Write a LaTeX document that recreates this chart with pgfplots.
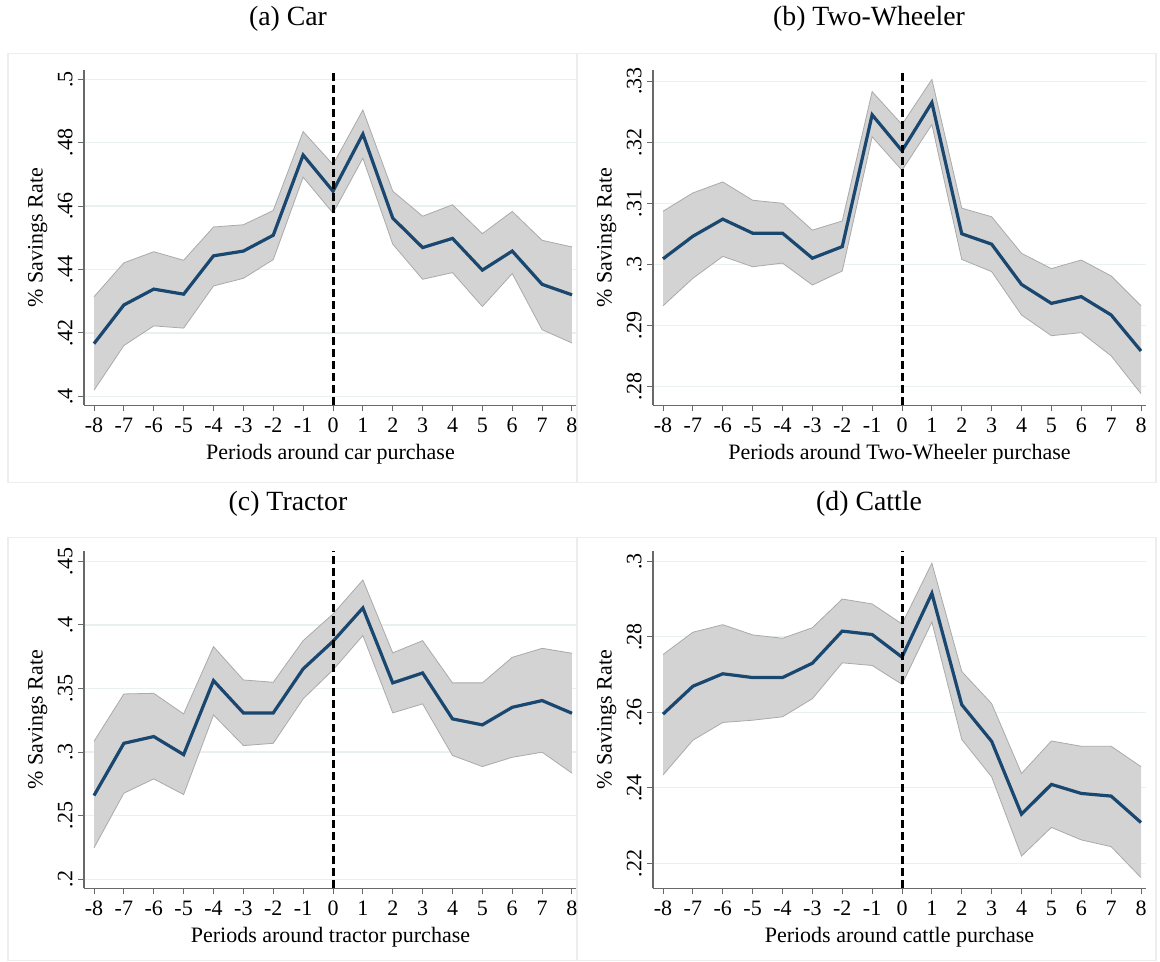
\documentclass[border=0pt]{standalone}
\usepackage{fontspec}
\setmainfont{Liberation Serif}
\usepackage{pgfplots}
\pgfplotsset{compat=1.18}
\usepackage{pgfplotstable}
\usepgfplotslibrary{fillbetween}
\definecolor{navy}{RGB}{26,71,111}
\definecolor{band}{RGB}{211,211,211}
\definecolor{bandedge}{RGB}{170,170,170}
\definecolor{gridc}{RGB}{232,240,242}
\definecolor{framec}{RGB}{234,238,240}
\definecolor{axisc}{RGB}{105,105,105}

\pgfplotstableread{
x m lo hi
-8 0.4166 0.4019 0.4314
-7 0.4288 0.4160 0.4421
-6 0.4338 0.4222 0.4456
-5 0.4322 0.4215 0.4429
-4 0.4443 0.4348 0.4534
-3 0.4458 0.4372 0.4541
-2 0.4508 0.4431 0.4586
-1 0.4761 0.4691 0.4835
0 0.4647 0.4578 0.4731
1 0.4827 0.4751 0.4903
2 0.4562 0.4480 0.4647
3 0.4469 0.4369 0.4568
4 0.4498 0.4390 0.4604
5 0.4398 0.4283 0.4513
6 0.4458 0.4387 0.4583
7 0.4353 0.4210 0.4492
8 0.4320 0.4168 0.4471
}\tabA

\pgfplotstableread{
x m lo hi
-8 0.3009 0.2932 0.3087
-7 0.3046 0.2977 0.3117
-6 0.3074 0.3013 0.3135
-5 0.3051 0.2996 0.3105
-4 0.3051 0.3002 0.3100
-3 0.3010 0.2966 0.3056
-2 0.3029 0.2989 0.3071
-1 0.3245 0.3209 0.3283
0 0.3186 0.3154 0.3229
1 0.3265 0.3229 0.3303
2 0.3050 0.3008 0.3092
3 0.3033 0.2988 0.3078
4 0.2967 0.2917 0.3018
5 0.2936 0.2883 0.2993
6 0.2947 0.2888 0.3007
7 0.2917 0.2850 0.2981
8 0.2858 0.2788 0.2932
}\tabB

\pgfplotstableread{
x m lo hi
-8 0.2658 0.2247 0.3085
-7 0.3069 0.2677 0.3457
-6 0.3122 0.2789 0.3462
-5 0.2980 0.2666 0.3300
-4 0.3562 0.3292 0.3829
-3 0.3308 0.3051 0.3567
-2 0.3308 0.3069 0.3549
-1 0.3654 0.3418 0.3876
0 0.3871 0.3646 0.4086
1 0.4133 0.3916 0.4353
2 0.3544 0.3308 0.3780
3 0.3622 0.3379 0.3876
4 0.3261 0.2973 0.3544
5 0.3214 0.2886 0.3544
6 0.3352 0.2959 0.3745
7 0.3405 0.2999 0.3816
8 0.3305 0.2834 0.3777
}\tabC

\pgfplotstableread{
x m lo hi
-8 0.2595 0.2434 0.2753
-7 0.2669 0.2526 0.2812
-6 0.2702 0.2573 0.2832
-5 0.2692 0.2579 0.2805
-4 0.2692 0.2588 0.2796
-3 0.2730 0.2636 0.2824
-2 0.2815 0.2731 0.2900
-1 0.2806 0.2724 0.2887
0 0.2746 0.2674 0.2834
1 0.2915 0.2839 0.2995
2 0.2620 0.2528 0.2708
3 0.2523 0.2429 0.2623
4 0.2330 0.2219 0.2438
5 0.2409 0.2295 0.2524
6 0.2385 0.2262 0.2510
7 0.2378 0.2244 0.2510
8 0.2308 0.2162 0.2456
}\tabD

\pgfplotsset{
  panel/.style={
    scale only axis, width=246.5pt, anchor=south west,
    xmin=-8.335, xmax=8.167,
    axis x line*=bottom, axis y line*=left,
    axis line style={axisc, line width=0.6pt, -},
    xtick={-8,-7,-6,-5,-4,-3,-2,-1,0,1,2,3,4,5,6,7,8},
    xticklabels={-8,-7,-6,-5,-4,-3,-2,-1,0,1,2,3,4,5,6,7,8},
    tick align=outside, major tick length=3pt,
    tick style={axisc, line width=0.5pt},
    ymajorgrids, major grid style={gridc, line width=0.7pt},
    yticklabel style={rotate=90, anchor=south, inner sep=1pt},
    yticklabel shift=1.5pt,
    font=\fontsize{11}{13}\selectfont,
    ylabel={\% Savings Rate},
    ylabel style={at={(axis description cs:-0.094,0.5)}, anchor=center},
    xlabel style={at={(axis description cs:0.5,-0.145)}, anchor=center},
  },
  bandplot/.style={draw=bandedge, line width=0.4pt, forget plot},
}

\begin{document}
\begin{tikzpicture}
\path (0,0) rectangle (580pt,480.5pt);
% frames
\draw[framec, line width=0.6pt] (4pt,239.5pt) rectangle (288.5pt,454pt);
\draw[framec, line width=0.6pt] (288.5pt,239.5pt) rectangle (578pt,454pt);
\draw[framec, line width=0.6pt] (4pt,0.3pt) rectangle (288.5pt,212pt);
\draw[framec, line width=0.6pt] (288.5pt,0.3pt) rectangle (578pt,212pt);
% titles
\node[font=\fontsize{13.9}{16}\selectfont] at (144pt,471pt) {(a) Car};
\node[font=\fontsize{13.9}{16}\selectfont] at (434.5pt,471pt) {(b) Two-Wheeler};
\node[font=\fontsize{13.9}{16}\selectfont] at (144pt,228.5pt) {(c) Tractor};
\node[font=\fontsize{13.9}{16}\selectfont] at (434.5pt,228.5pt) {(d) Cattle};

% (a)
\begin{axis}[panel, at={(42pt,278pt)}, height=167.5pt,
  ymin=0.39716, ymax=0.50284,
  ytick={0.4,0.42,0.44,0.46,0.48,0.5}, yticklabels={.4,.42,.44,.46,.48,.5},
  xlabel={Periods around car purchase}]
\addplot[bandplot, name path=hi] table[x=x,y=hi]{\tabA};
\addplot[bandplot, name path=lo] table[x=x,y=lo]{\tabA};
\addplot[band, forget plot] fill between[of=hi and lo];
\addplot[navy, line width=1.6pt] table[x=x,y=m]{\tabA};
\addplot[black, line width=1.5pt, dash pattern=on 4pt off 2pt] coordinates {(0,0.39716) (0,0.50284)};
\end{axis}

% (b)
\begin{axis}[panel, at={(326.5pt,278pt)}, height=167.5pt,
  ymin=0.2769, ymax=0.3318,
  ytick={0.28,0.29,0.30,0.31,0.32,0.33}, yticklabels={.28,.29,.3,.31,.32,.33},
  xlabel={Periods around Two-Wheeler purchase}]
\addplot[bandplot, name path=hi] table[x=x,y=hi]{\tabB};
\addplot[bandplot, name path=lo] table[x=x,y=lo]{\tabB};
\addplot[band, forget plot] fill between[of=hi and lo];
\addplot[navy, line width=1.6pt] table[x=x,y=m]{\tabB};
\addplot[black, line width=1.5pt, dash pattern=on 4pt off 2pt] coordinates {(0,0.2769) (0,0.3318)};
\end{axis}

% (c)
\begin{axis}[panel, at={(42pt,36.5pt)}, height=168.5pt,
  ymin=0.1929, ymax=0.4579,
  ytick={0.2,0.25,0.3,0.35,0.4,0.45}, yticklabels={.2,.25,.3,.35,.4,.45},
  xlabel={Periods around tractor purchase}]
\addplot[bandplot, name path=hi] table[x=x,y=hi]{\tabC};
\addplot[bandplot, name path=lo] table[x=x,y=lo]{\tabC};
\addplot[band, forget plot] fill between[of=hi and lo];
\addplot[navy, line width=1.6pt] table[x=x,y=m]{\tabC};
\addplot[black, line width=1.5pt, dash pattern=on 4pt off 2pt] coordinates {(0,0.1929) (0,0.4579)};
\end{axis}

% (d)
\begin{axis}[panel, at={(326.5pt,36.5pt)}, height=168.5pt,
  ymin=0.21338, ymax=0.30265,
  ytick={0.22,0.24,0.26,0.28,0.3}, yticklabels={.22,.24,.26,.28,.3},
  xlabel={Periods around cattle purchase}]
\addplot[bandplot, name path=hi] table[x=x,y=hi]{\tabD};
\addplot[bandplot, name path=lo] table[x=x,y=lo]{\tabD};
\addplot[band, forget plot] fill between[of=hi and lo];
\addplot[navy, line width=1.6pt] table[x=x,y=m]{\tabD};
\addplot[black, line width=1.5pt, dash pattern=on 4pt off 2pt] coordinates {(0,0.21338) (0,0.30265)};
\end{axis}
\end{tikzpicture}
\end{document}
